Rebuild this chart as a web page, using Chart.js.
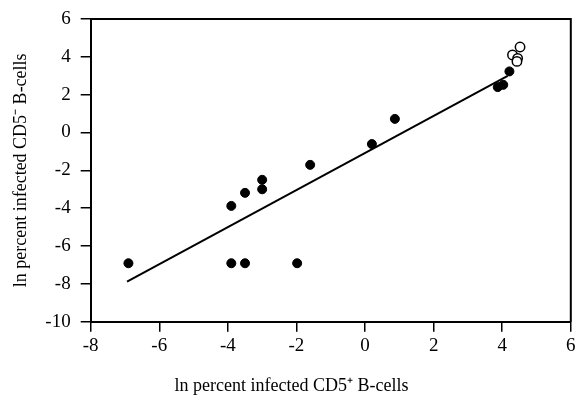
<!DOCTYPE html>
<html><head><meta charset="utf-8">
<script src="https://cdn.jsdelivr.net/npm/chart.js@4/dist/chart.umd.min.js"></script>
<style>html,body{margin:0;padding:0;background:#fff}#wrap{width:577px;height:397px}</style>
</head><body><div id="wrap"><canvas id="c" width="577" height="397"></canvas></div>
<script>
// Filled circles (ln % infected CD5+ , ln % infected CD5-)
const filledX = [-6.9, -3.9, -3.5, -1.98, -3.9, -3.5, -3.0, -3.0, -1.6, 0.2, 0.87, 3.87, 4.03, 4.21];
const filledY = [-6.91, -6.91, -6.91, -6.91, -3.88, -3.19, -2.5, -3.0, -1.71, -0.61, 0.72, 2.40, 2.52, 3.23];
// Open circles
const openX = [4.52, 4.3, 4.45, 4.43];
const openY = [4.52, 4.1, 3.92, 3.76];
// Regression line end points
const lineX = [-6.94, 4.16];
const lineY = [-7.88, 3.0];
// Axes
const xMin = -8, xMax = 6, xStep = 2;
const yMin = -10, yMax = 6, yStep = 2;
const xTitle = 'ln percent infected CD5\u207A B-cells';
const yTitle = 'ln percent infected CD5\u207B B-cells';

const toPts = (xs, ys) => xs.map((x, i) => ({x: x, y: ys[i]}));
const FONT = 'Liberation Serif';
Chart.defaults.font.family = FONT;
Chart.defaults.color = '#000';

const frame = {
  id: 'frame',
  afterDraw(chart) {
    const {ctx, chartArea: a} = chart;
    ctx.save();
    ctx.strokeStyle = '#000';
    ctx.lineWidth = 2;
    ctx.beginPath();
    ctx.moveTo(a.left, a.top);
    ctx.lineTo(a.right, a.top);
    ctx.lineTo(a.right, a.bottom);
    ctx.stroke();
    ctx.restore();
  }
};

new Chart(document.getElementById('c'), {
  type: 'scatter',
  data: {
    datasets: [
      {
        type: 'line', data: toPts(lineX, lineY), borderColor: '#000', borderWidth: 2,
        pointRadius: 0, fill: false, order: 3
      },
      {
        data: toPts(filledX, filledY), backgroundColor: '#000', borderColor: '#000',
        pointRadius: 4.5, borderWidth: 1, order: 2
      },
      {
        data: toPts(openX, openY), backgroundColor: '#fff', borderColor: '#000',
        pointRadius: 4.7, borderWidth: 1.5, order: 1
      }
    ]
  },
  options: {
    responsive: false,
    devicePixelRatio: 1,
    animation: false,
    layout: {padding: {top: 19, right: 4, left: 10, bottom: 0}},
    plugins: {
      legend: {display: false},
      tooltip: {enabled: false},
      title: {
        display: true, position: 'bottom', text: xTitle, color: '#000',
        font: {family: FONT, size: 18, weight: 'normal'},
        padding: {top: 4, bottom: 0}
      }
    },
    scales: {
      x: {
        type: 'linear', min: xMin, max: xMax,
        ticks: {stepSize: xStep, padding: 3, color: '#000', font: {family: FONT, size: 19}},
        grid: {drawOnChartArea: false, drawTicks: true, tickLength: 10, color: '#000', lineWidth: 1.5},
        border: {display: true, color: '#000', width: 2},
        afterFit(s) { s.height = 49.7; s.paddingRight = 0; s.paddingLeft = 0; }
      },
      y: {
        type: 'linear', min: yMin, max: yMax,
        ticks: {stepSize: yStep, padding: 10, color: '#000', font: {family: FONT, size: 19}},
        grid: {drawOnChartArea: false, drawTicks: true, tickLength: 10, color: '#000', lineWidth: 1.5},
        border: {display: true, color: '#000', width: 2},
        title: {display: true, text: yTitle, color: '#000', font: {family: FONT, size: 18, weight: 'normal'}, padding: {top: 0, bottom: 0}},
        afterFit(s) { s.width = 80.7; s.paddingTop = 0; s.paddingBottom = 0; }
      }
    }
  },
  plugins: [frame]
});
</script></body></html>
